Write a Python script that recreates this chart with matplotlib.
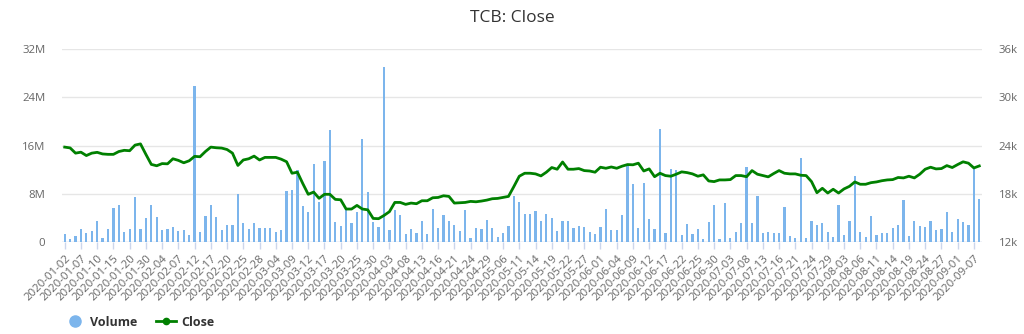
import matplotlib
matplotlib.use("Agg")
import matplotlib.pyplot as plt
from matplotlib.lines import Line2D
from matplotlib.ticker import FuncFormatter, FixedLocator

# ---- data ----
tick_labels = [
    "2020-01-02", "2020-01-07", "2020-01-10", "2020-01-15", "2020-01-20", "2020-01-30",
    "2020-02-04", "2020-02-07", "2020-02-12", "2020-02-17", "2020-02-20", "2020-02-25",
    "2020-02-28", "2020-03-04", "2020-03-09", "2020-03-12", "2020-03-17", "2020-03-20",
    "2020-03-25", "2020-03-30", "2020-04-03", "2020-04-08", "2020-04-13", "2020-04-16",
    "2020-04-21", "2020-04-24", "2020-04-29", "2020-05-06", "2020-05-11", "2020-05-14",
    "2020-05-19", "2020-05-22", "2020-05-27", "2020-06-01", "2020-06-04", "2020-06-09",
    "2020-06-12", "2020-06-17", "2020-06-22", "2020-06-25", "2020-06-30", "2020-07-03",
    "2020-07-08", "2020-07-13", "2020-07-16", "2020-07-21", "2020-07-24", "2020-07-29",
    "2020-08-03", "2020-08-06", "2020-08-11", "2020-08-14", "2020-08-19", "2020-08-24",
    "2020-08-27", "2020-09-01", "2020-09-07",
]
label_step = 3  # one label every 3 trading sessions

# Volume, in millions of shares
volume_m = [
    1.27, 0.5, 0.94, 2.2, 1.55, 1.8, 3.5, 0.66, 2.15, 5.6,
    6.2, 1.7, 2.15, 7.4, 2.15, 3.9, 6.1, 4.1, 2.0, 2.2,
    2.5, 1.9, 2.0, 1.1, 25.8, 1.7, 4.25, 6.2, 4.1, 2.0,
    2.8, 2.8, 8.0, 3.1, 2.15, 3.1, 2.3, 2.4, 2.4, 1.7,
    2.0, 8.4, 8.7, 12.0, 6.0, 5.0, 13.0, 6.7, 13.4, 18.6,
    3.3, 2.7, 5.4, 3.15, 5.0, 17.1, 8.3, 3.26, 2.54, 29.0,
    2.04, 5.3, 4.4, 1.27, 2.15, 1.44, 3.4, 1.27, 5.4, 2.27,
    4.4, 3.4, 2.8, 1.8, 5.3, 0.72, 2.27, 2.15, 3.7, 2.27,
    0.83, 1.55, 2.7, 7.57, 6.7, 4.7, 4.7, 5.1, 3.4, 4.7,
    4.0, 1.8, 3.4, 3.5, 2.4, 2.7, 2.54, 1.7, 1.4, 2.54,
    5.5, 2.0, 2.0, 4.5, 12.7, 9.6, 2.4, 9.8, 3.8, 2.1,
    18.8, 1.55, 12.1, 12.0, 1.1, 3.0, 1.38, 2.2, 0.55, 3.26,
    6.13, 0.55, 6.4, 0.66, 1.7, 3.1, 12.4, 3.1, 7.57, 1.55,
    1.66, 1.55, 1.55, 5.8, 1.0, 0.66, 13.9, 0.66, 3.5, 2.9,
    3.1, 1.7, 0.83, 6.13, 1.1, 3.5, 11.0, 1.7, 0.83, 4.36,
    1.1, 1.55, 1.55, 2.4, 2.8, 7.0, 1.0, 3.5, 2.7, 2.54,
    3.5, 2.0, 2.15, 5.0, 1.7, 3.8, 3.26, 2.8, 12.3, 7.2,
]

# Close price, in thousands
close_k = [
    23.8, 23.7, 23.05, 23.17, 22.75, 23.05, 23.15, 22.95, 22.9, 22.9,
    23.25, 23.4, 23.35, 24.05, 24.2, 22.9, 21.65, 21.48, 21.75, 21.72,
    22.35, 22.15, 21.85, 22.1, 22.65, 22.6, 23.25, 23.8, 23.72, 23.68,
    23.5, 23.05, 21.52, 22.2, 22.35, 22.68, 22.2, 22.52, 22.52, 22.52,
    22.3, 21.98, 20.55, 20.68, 19.26, 17.93, 18.21, 17.43, 17.93, 17.93,
    17.3, 17.25, 16.1, 16.1, 16.55, 16.1, 16.0, 14.93, 14.9, 15.3,
    15.77, 16.92, 16.92, 16.68, 16.84, 16.76, 17.13, 17.13, 17.5, 17.54,
    17.75, 17.67, 16.84, 16.88, 16.92, 17.05, 17.0, 17.09, 17.21, 17.38,
    17.42, 17.54, 17.67, 18.9, 20.18, 20.55, 20.55, 20.47, 20.22, 20.68,
    21.26, 21.05, 21.95, 21.05, 21.05, 21.13, 20.88, 20.83, 20.68, 21.3,
    21.17, 21.33, 21.17, 21.43, 21.63, 21.6, 21.8, 20.83, 21.09, 20.12,
    20.55, 20.26, 20.18, 20.43, 20.72, 20.63, 20.47, 20.18, 20.35, 19.59,
    19.51, 19.72, 19.72, 19.76, 20.26, 20.26, 20.12, 20.88, 20.43, 20.26,
    20.1, 20.51, 20.88, 20.55, 20.47, 20.47, 20.3, 20.26, 19.51, 18.13,
    18.68, 18.09, 18.56, 18.09, 18.6, 18.92, 19.47, 19.18, 19.18, 19.38,
    19.47, 19.62, 19.72, 19.76, 20.02, 19.97, 20.18, 19.97, 20.43, 21.05,
    21.3, 21.09, 21.13, 21.5, 21.26, 21.63, 21.97, 21.8, 21.21, 21.46,
]

# ---- figure ----
W, H = 1024, 334
fig = plt.figure(figsize=(W / 100, H / 100), dpi=100)
plt.rcParams['font.family'] = ['Open Sans', 'DejaVu Sans']

left, right, top, bottom = 62, 982, 49, 242
ax = fig.add_axes([left / W, 1 - bottom / H, (right - left) / W, (bottom - top) / H])
ax2 = ax.twinx()

n = len(volume_m)
x = list(range(n))
vol = [v * 1e6 for v in volume_m]
cls = [c * 1e3 for c in close_k]

ax.bar(x, vol, width=0.42, color='#7cb5ec', zorder=3)
ax2.plot(x, cls, color='#008000', lw=2, zorder=4, solid_joinstyle='round')

ax.set_xlim(-0.5, n - 0.5)
ax.set_ylim(0, 32e6)
ax2.set_ylim(12000, 36000)
ax.set_yticks([0, 8e6, 16e6, 24e6, 32e6])
ax2.set_yticks([12000, 18000, 24000, 30000, 36000])
ax.yaxis.set_major_formatter(FuncFormatter(lambda v, p: "0" if v == 0 else f"{v/1e6:.0f}M"))
ax2.yaxis.set_major_formatter(FuncFormatter(lambda v, p: f"{v/1e3:.0f}k"))

ax.grid(axis='y', color='#e6e6e6', lw=1, zorder=0)
ax.set_axisbelow(True)

for a in (ax, ax2):
    for s in ('top', 'left', 'right'):
        a.spines[s].set_visible(False)
    a.spines['bottom'].set_visible(False)
ax.axhline(0, color='#ccd6eb', lw=1, zorder=2)

tick_pos = [i * label_step for i in range(len(tick_labels))]
ax.xaxis.set_major_locator(FixedLocator(tick_pos))
ax.set_xticklabels(tick_labels, rotation=45, ha='right', rotation_mode='anchor',
                   fontsize=8.2, color='#666666')
ax.tick_params(axis='x', length=5, width=1, color='#ccd6eb', pad=3)
ax.tick_params(axis='y', length=0, labelsize=8.2, labelcolor='#666666', pad=12)
ax2.tick_params(axis='y', length=0, labelsize=8.2, labelcolor='#666666', pad=12)

fig.text(0.5, 1 - 18 / H, "TCB: Close", ha='center', va='center', fontsize=12.5, color='#333333')

handles = [
    Line2D([], [], marker='o', color='#7cb5ec', linestyle='none', markersize=8),
    Line2D([], [], marker='o', color='#008000', lw=2, markersize=4.5),
]
leg = fig.legend(handles, ["Volume", "Close"], loc='center left',
                 bbox_to_anchor=(60 / W, 12 / H), ncol=2, frameon=False,
                 prop={'weight': 'bold', 'size': 9}, handlelength=1.6,
                 handletextpad=0.4, columnspacing=1.5, borderaxespad=0)
for t in leg.get_texts():
    t.set_color('#333333')

fig.savefig("out.png", dpi=100)
